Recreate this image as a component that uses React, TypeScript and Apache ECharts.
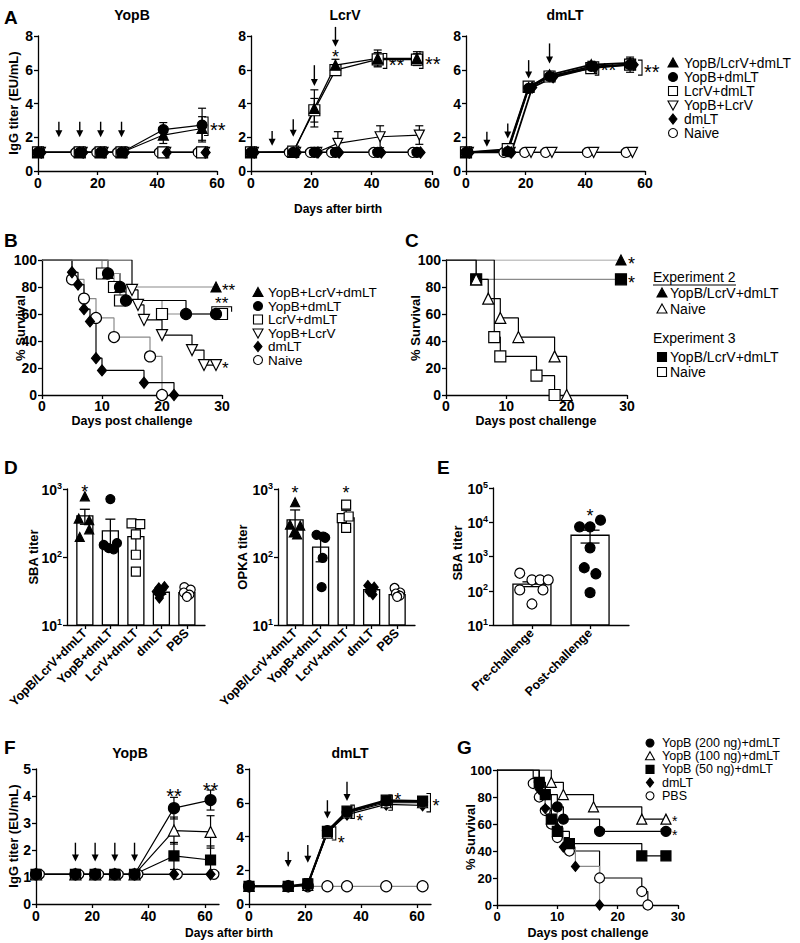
import React, { useEffect, useRef } from 'react';
import * as echarts from 'echarts';

const FONT = '"Liberation Sans", Arial, Helvetica, sans-serif';
const GRAY = '#8a8a8a';

// ================= Panel A (IgG titers, EU/mL) =================
const daysA = [0, 14, 21, 28, 42, 55];
const aBase = [1.1, 1.1, 1.1, 1.1, 1.1, 1.1];
const aNoErr = [0, 0, 0, 0, 0, 0];
// anti-YopB
const aYopB_YLD = [1.1, 1.1, 1.1, 1.1, 2.13, 2.52];
const aYopB_YLD_err = [0, 0, 0, 0, 0.5, 0.7];
const aYopB_YD = [1.1, 1.1, 1.1, 1.1, 2.45, 2.72];
const aYopB_YD_err = [0, 0, 0, 0, 0.42, 1.0];
// anti-LcrV
const aLcrV_YLD = [1.1, 1.1, 3.71, 6.27, 6.67, 6.67];
const aLcrV_YLD_err = [0, 0, 1.1, 0.35, 0.5, 0.4];
const aLcrV_LD = [1.1, 1.15, 3.6, 5.98, 6.62, 6.6];
const aLcrV_LD_err = [0, 0.1, 0.7, 0.3, 0.4, 0.35];
const aLcrV_YL = [1.1, 1.1, 1.1, 1.64, 2.03, 2.13];
const aLcrV_YL_err = [0, 0, 0, 0.69, 0.65, 0.55];
// anti-dmLT
const aDmlt_YLD = [1.1, 1.2, 4.95, 5.7, 6.3, 6.4];
const aDmlt_YLD_err = [0, 0.1, 0.2, 0.2, 0.2, 0.25];
const aDmlt_YD = [1.1, 1.15, 4.9, 5.6, 6.2, 6.3];
const aDmlt_YD_err = [0, 0, 0.15, 0.15, 0.2, 0.45];
const aDmlt_LD = [1.1, 1.3, 5.0, 5.6, 6.1, 6.3];
const aDmlt_LD_err = [0, 0.2, 0.15, 0.15, 0.2, 0.2];
const aDmlt_D = [1.1, 1.1, 4.95, 5.55, 6.15, 6.3];
// immunisation arrows [day, top, tip]
const aArrowsYopB = [[7, 2.92, 2.0], [14, 2.92, 2.0], [21, 2.92, 2.0], [28, 2.92, 2.0]];
const aArrowsLcrV = [[7, 2.37, 1.5], [14, 3.06, 2.03], [21, 6.27, 5.03], [28, 8.54, 7.36]];
const aArrowsDmlt = [[7, 2.33, 1.44], [14, 2.82, 1.93], [21, 6.57, 5.48], [28, 7.56, 6.37]];
const aLegend = ['YopB/LcrV+dmLT', 'YopB+dmLT', 'LcrV+dmLT', 'YopB+LcrV', 'dmLT', 'Naive'];

// ================= Panel B (survival) =================
const bLegend = ['YopB+LcrV+dmLT', 'YopB+dmLT', 'LcrV+dmLT', 'YopB+LcrV', 'dmLT', 'Naive'];
const bT_YLD = [0, 11, 13, 29];
const bS_YLD = [100, 90, 80, 80];
const bT_YD = [0, 11, 13, 14, 24, 29];
const bS_YD = [100, 90, 80, 70, 60, 60];
const bT_LD = [0, 10, 12, 13, 20, 30];
const bS_LD = [100, 90, 80, 70, 60, 60];
const bT_YL = [0, 15, 16, 17, 20, 25, 27, 29];
const bS_YL = [100, 77.8, 66.7, 55.6, 44.4, 33.3, 22.2, 22.2];
const bT_D = [0, 5, 6, 7, 8, 9, 10, 17, 22];
const bS_D = [100, 90.9, 81.8, 63.6, 54.5, 27.3, 18.2, 9.1, 0];
const bT_N = [0, 5, 7, 9, 12, 18, 20];
const bS_N = [100, 85.7, 71.4, 57.1, 42.9, 28.6, 0];

// ================= Panel C (survival) =================
const cT_e2V = [0, 29];
const cS_e2V = [100, 100];
const cT_e2N = [0, 5, 7, 9, 12, 18, 20];
const cS_e2N = [100, 85.7, 71.4, 57.1, 42.9, 28.6, 0];
const cT_e3V = [0, 5, 29];
const cS_e3V = [100, 85.7, 85.7];
const cT_e3N = [0, 8, 9, 15, 18];
const cS_e3N = [100, 42.9, 28.6, 14.3, 0];

// ================= Panel D (SBA / OPKA) =================
const dCats = ['YopB/LcrV+dmLT', 'YopB+dmLT', 'LcrV+dmLT', 'dmLT', 'PBS'];
const sbaMean = [403, 242, 199, 30.3, 30];
const sbaSem = [100, 118, 80, 2, 1.5];
const sbaPts = [[780, 367, 347, 255, 197], [711, 150, 135, 130, 160], [313, 304, 215, 108, 61], [35, 36.5, 31, 29, 25], [36, 33, 30, 28, 26]];
const sbaJit = [[0, -0.24, 0.17, 0.17, -0.2], [0, -0.26, -0.06, 0.13, 0.26], [-0.17, 0.17, 0, 0, 0], [-0.1, 0.12, -0.2, 0, -0.08], [-0.1, 0.15, -0.12, 0.1, 0]];
const opkaMean = [352, 140, 377, 33, 28];
const opkaSem = [140, 55, 110, 2, 1.5];
const opkaPts = [[638, 300, 290, 230, 215], [212, 200, 192, 97, 36], [590, 373, 394, 268], [38, 36, 33, 31, 28], [35, 30, 29, 27, 26]];
const opkaJit = [[0, -0.2, 0.2, -0.05, 0.08], [-0.16, 0.1, 0.18, 0.08, 0.04], [0, -0.17, 0.1, 0], [-0.15, 0.1, 0, -0.1, 0.05], [-0.1, 0.12, -0.05, 0.1, 0]];
const dSyms = ['triUp', 'circle', 'squareOpen', 'diamond', 'circleOpen'];

// ================= Panel E =================
const eCats = ['Pre-challenge', 'Post-challenge'];
const eMean = [157, 4170];
const eSem = [25, 1700];
const ePre = [325, 207, 207, 207, 106, 106, 41];
const ePreJit = [-0.21, 0, 0.14, 0.28, -0.21, 0.19, 0];
const ePost = [7350, 7350, 11500, 1795, 469, 313, 88];
const ePostJit = [-0.18, 0, 0.18, 0, -0.1, 0.1, 0];

// ================= Panel F (IgG titers) =================
const daysF = [0, 14, 21, 28, 35, 49, 62];
const fBase = [1.1, 1.1, 1.1, 1.1, 1.1, 1.1, 1.1];
const fYopB_200 = [1.1, 1.1, 1.1, 1.1, 1.1, 3.55, 3.85];
const fYopB_200_err = [0, 0, 0, 0, 0, 0.4, 0.37];
const fYopB_100 = [1.1, 1.1, 1.1, 1.1, 1.1, 2.72, 2.67];
const fYopB_100_err = [0, 0, 0, 0, 0, 0.5, 0.6];
const fYopB_50 = [1.1, 1.1, 1.1, 1.1, 1.1, 1.78, 1.63];
const fYopB_50_err = [0, 0, 0, 0, 0, 0.5, 0.52];
const fDmlt_200 = [1.05, 1.05, 1.15, 4.35, 5.45, 6.1, 6.05];
const fDmlt_100 = [1.05, 1.05, 1.1, 4.2, 5.4, 6.0, 6.0];
const fDmlt_50 = [1.05, 1.05, 1.2, 4.3, 5.5, 6.15, 6.1];
const fDmlt_50_err = [0, 0, 0.3, 0.2, 0.15, 0.1, 0.1];
const fDmlt_D = [1.05, 1.05, 1.15, 4.25, 5.3, 5.9, 5.85];
const fDmlt_PBS = [1.05, 1.05, 1.05, 1.05, 1.05, 1.05, 1.05];
const fArrowsYopB = [[14, 2.27, 1.57], [21, 2.27, 1.57], [28, 2.27, 1.57], [35, 2.27, 1.57]];
const fArrowsDmlt = [[14, 3.1, 2.2], [21, 3.5, 2.45], [28, 6.15, 5.07], [35, 7.25, 6.1]];
const gLegend = ['YopB (200 ng)+dmLT', 'YopB (100 ng)+dmLT', 'YopB (50 ng)+dmLT', 'dmLT', 'PBS'];

// ================= Panel G (survival) =================
const gT_200 = [0, 7, 8, 10, 11, 17, 28];
const gS_200 = [100, 90.9, 81.8, 72.7, 63.6, 54.5, 54.5];
const gT_100 = [0, 9, 11, 16, 24, 28];
const gS_100 = [100, 90.9, 81.8, 72.7, 63.6, 63.6];
const gT_50 = [0, 7, 8, 9, 10, 12, 24, 28];
const gS_50 = [100, 90.9, 81.8, 63.6, 54.5, 45.5, 36.4, 36.4];
const gT_D = [0, 7, 8, 10, 11, 13, 17];
const gS_D = [100, 85.7, 71.4, 57.1, 42.9, 28.6, 0];
const gT_P = [0, 6, 7, 8, 9, 10, 12, 17, 24, 25];
const gS_P = [100, 90, 80, 70, 60, 50, 40, 20, 10, 0];

// ---------------- helpers ----------------
type SymDef = { symbol: string; rotate?: number; fill: string };
const SYM: Record<string, SymDef> = {
  triUp: { symbol: 'triangle', fill: '#000' },
  triUpOpen: { symbol: 'triangle', fill: '#fff' },
  triDownOpen: { symbol: 'triangle', rotate: 180, fill: '#fff' },
  circle: { symbol: 'circle', fill: '#000' },
  circleOpen: { symbol: 'circle', fill: '#fff' },
  square: { symbol: 'rect', fill: '#000' },
  squareOpen: { symbol: 'rect', fill: '#fff' },
  diamond: { symbol: 'diamond', fill: '#000' },
};

function axisBase(grid: number, o: any) {
  const ticks = o.ticks ? { customValues: o.ticks } : {};
  return {
    type: o.log ? 'log' : 'value',
    gridIndex: grid,
    min: o.min,
    max: o.max,
    ...(o.interval ? { interval: o.interval } : {}),
    ...(o.log ? { logBase: 10 } : {}),
    axisLine: { show: true, onZero: false, lineStyle: { color: '#000', width: 1.3 } },
    axisTick: { show: true, length: 4, lineStyle: { color: '#000', width: 1.3 }, ...ticks },
    axisLabel: {
      color: '#000', fontFamily: FONT, fontWeight: 'bold', fontSize: o.fs || 14, margin: o.margin ?? 5,
      ...ticks, ...(o.label || {}),
    },
    splitLine: { show: false },
    minorTick: { show: false },
  };
}

function lineS(grid: number, xs: number[], ys: number[], sym: string, o: any = {}) {
  const s = SYM[sym];
  const nudge = o.nudge || 0;
  return {
    type: 'line', xAxisIndex: grid, yAxisIndex: grid,
    data: xs.map((x, i) => {
      const v = [x + nudge, ys[i]];
      return o.km && i === 0 ? { value: v, symbol: 'none' } : v;
    }),
    step: o.km ? 'end' : false,
    symbol: s.symbol, symbolRotate: s.rotate || 0, symbolSize: o.size || 10,
    showAllSymbol: true,
    lineStyle: { color: o.color || '#000', width: o.width || 1.2 },
    itemStyle: { color: s.fill, borderColor: '#000', borderWidth: 1.2 },
    z: o.z || 3, silent: true, animation: false, emphasis: { disabled: true },
  };
}

function customS(grid: number, data: any[], renderItem: any, z = 4) {
  return {
    type: 'custom', xAxisIndex: grid, yAxisIndex: grid, data, renderItem, z,
    encode: { x: 0, y: 1 }, silent: true, animation: false, clip: false,
  };
}

function errS(grid: number, xs: number[], ys: number[], errs: number[], nudge = 0, cap = 8) {
  return customS(grid, xs.map((x, i) => [x + nudge, ys[i], errs[i]]), (p: any, api: any) => {
    const e = api.value(2);
    if (!e) return null;
    const x = api.value(0), v = api.value(1);
    const t = api.coord([x, v + e]), b = api.coord([x, v - e]);
    const st = { stroke: '#000', lineWidth: 1.2 };
    return {
      type: 'group', children: [
        { type: 'line', shape: { x1: t[0], y1: t[1], x2: b[0], y2: b[1] }, style: st },
        { type: 'line', shape: { x1: t[0] - cap / 2, y1: t[1], x2: t[0] + cap / 2, y2: t[1] }, style: st },
        { type: 'line', shape: { x1: b[0] - cap / 2, y1: b[1], x2: b[0] + cap / 2, y2: b[1] }, style: st },
      ],
    };
  }, 2);
}

function arrowS(grid: number, arrows: number[][]) {
  return customS(grid, arrows, (p: any, api: any) => {
    const x = api.value(0);
    const t = api.coord([x, api.value(1)]), b = api.coord([x, api.value(2)]);
    const h = 7, w = 3.5;
    return {
      type: 'group', children: [
        { type: 'line', shape: { x1: t[0], y1: t[1], x2: b[0], y2: b[1] - h + 1 }, style: { stroke: '#000', lineWidth: 1.4 } },
        { type: 'polygon', shape: { points: [[b[0] - w, b[1] - h], [b[0] + w, b[1] - h], [b[0], b[1]]] }, style: { fill: '#000' } },
      ],
    };
  }, 5);
}

function bracketS(grid: number, items: number[][], labels: string[], dys: number[], fs = 18) {
  return customS(grid, items, (p: any, api: any) => {
    const x = api.value(0);
    const lo = api.coord([x, api.value(1)]), hi = api.coord([x, api.value(2)]);
    const i = p.dataIndex, arm = 4;
    return {
      type: 'group', children: [
        { type: 'polyline', shape: { points: [[hi[0] - arm, hi[1]], [hi[0], hi[1]], [lo[0], lo[1]], [lo[0] - arm, lo[1]]] }, style: { stroke: '#000', lineWidth: 1.1, fill: null } },
        { type: 'text', x: hi[0] + 2, y: (hi[1] + lo[1]) / 2 + fs * 0.2 + (dys[i] || 0), style: { text: labels[i], fontSize: fs, fontFamily: FONT, fill: '#000', align: 'left', verticalAlign: 'middle' } },
      ],
    };
  }, 6);
}

function textS(grid: number, pts: number[][], labels: string[], o: any = {}) {
  const fs = o.fs || 18;
  return customS(grid, pts, (p: any, api: any) => {
    const c = api.coord([api.value(0), api.value(1)]);
    return {
      type: 'text', x: c[0] + (o.dx || 0), y: c[1] + fs * 0.2 + (o.dy || 0),
      style: { text: labels[p.dataIndex], fontSize: fs, fontFamily: FONT, fill: '#000', align: o.align || 'center', verticalAlign: 'middle' },
    };
  }, 6);
}

function barS(grid: number, means: number[], sems: number[], width: number, yMin: number, cap: number) {
  return customS(grid, means.map((m, i) => [i, m, sems[i]]), (p: any, api: any) => {
    const i = api.value(0), m = api.value(1), s = api.value(2);
    const top = api.coord([i, m]), base = api.coord([i, yMin]);
    const et = api.coord([i, m + s]), eb = api.coord([i, Math.max(m - s, yMin * 1.01)]);
    const st = { stroke: '#000', lineWidth: 1.3 };
    return {
      type: 'group', children: [
        { type: 'rect', shape: { x: top[0] - width / 2, y: top[1], width, height: base[1] - top[1] }, style: { fill: '#fff', stroke: '#000', lineWidth: 1.3 } },
        { type: 'line', shape: { x1: et[0], y1: et[1], x2: eb[0], y2: eb[1] }, style: st },
        { type: 'line', shape: { x1: et[0] - cap / 2, y1: et[1], x2: et[0] + cap / 2, y2: et[1] }, style: st },
        { type: 'line', shape: { x1: eb[0] - cap / 2, y1: eb[1], x2: eb[0] + cap / 2, y2: eb[1] }, style: st },
      ],
    };
  }, 1);
}

function dotsS(grid: number, center: number, vals: number[], jit: number[], sym: string, size: any = 9) {
  const s = SYM[sym];
  return {
    type: 'scatter', xAxisIndex: grid, yAxisIndex: grid,
    data: vals.map((v, i) => [center + jit[i], v]),
    symbol: s.symbol, symbolRotate: s.rotate || 0, symbolSize: size,
    itemStyle: { color: s.fill, borderColor: '#000', borderWidth: 1.2, opacity: 1 },
    z: 5, silent: true, animation: false, emphasis: { disabled: true },
  };
}

// graphic helpers
function gText(text: string, x: number, y: number, o: any = {}) {
  return {
    type: 'text', x, y, rotation: o.rot || 0, silent: true, z: 20,
    style: { text, fontFamily: FONT, fontSize: o.fs || 14, fontWeight: o.bold ? 'bold' : 'normal', fill: '#000', align: o.align || 'center', verticalAlign: 'middle' },
  };
}
function gSym(kind: string, cx: number, cy: number, s: number) {
  const fill = SYM[kind].fill;
  const style = { fill, stroke: '#000', lineWidth: 1.1 };
  const h = s / 2;
  if (kind === 'circle' || kind === 'circleOpen') return { type: 'circle', shape: { cx, cy, r: h - 0.5 }, style, z: 20, silent: true };
  if (kind === 'square' || kind === 'squareOpen') return { type: 'rect', shape: { x: cx - h + 0.5, y: cy - h + 0.5, width: s - 1, height: s - 1 }, style, z: 20, silent: true };
  if (kind === 'triUp' || kind === 'triUpOpen') return { type: 'polygon', shape: { points: [[cx, cy - h], [cx + h, cy + h - 1], [cx - h, cy + h - 1]] }, style, z: 20, silent: true };
  if (kind === 'triDownOpen') return { type: 'polygon', shape: { points: [[cx - h, cy - h + 1], [cx + h, cy - h + 1], [cx, cy + h]] }, style, z: 20, silent: true };
  return { type: 'polygon', shape: { points: [[cx, cy - h], [cx + h * 0.8, cy], [cx, cy + h], [cx - h * 0.8, cy]] }, style, z: 20, silent: true };
}
function gLegendBlock(mx: number, tx: number, y0: number, gap: number, labels: string[], syms: string[], size = 10, fs = 14) {
  const out: any[] = [];
  labels.forEach((l, i) => {
    out.push(gSym(syms[i], mx, y0 + i * gap, size));
    out.push(gText(l, tx, y0 + i * gap, { align: 'left', fs }));
  });
  return out;
}

function buildOption() {
  const grids = [
    { left: 38, top: 36, width: 179, height: 135 },   // 0 A1
    { left: 251, top: 36, width: 181, height: 135 },  // 1 A2
    { left: 466, top: 36, width: 179, height: 135 },  // 2 A3
    { left: 42, top: 260, width: 180, height: 135 },  // 3 B
    { left: 446, top: 260, width: 181, height: 135 }, // 4 C
    { left: 67, top: 489, width: 138, height: 136 },  // 5 D1
    { left: 278, top: 489, width: 137, height: 136 }, // 6 D2
    { left: 493, top: 488, width: 136, height: 137 }, // 7 E
    { left: 36, top: 769, width: 183, height: 135 },  // 8 F1
    { left: 249, top: 769, width: 182, height: 135 }, // 9 F2
    { left: 497, top: 770, width: 181, height: 135 }, // 10 G
  ];
  const logFmt = (v: number) => `{b|10}{s|${Math.round(Math.log10(v))}}`;
  const logRich = {
    b: { fontSize: 14, fontWeight: 'bold', fontFamily: FONT, color: '#000', lineHeight: 16, verticalAlign: 'bottom' },
    s: { fontSize: 9, fontWeight: 'bold', fontFamily: FONT, color: '#000', lineHeight: 16, verticalAlign: 'top', padding: [0, 0, 6, 0] },
  };
  const catLabel = (cats: string[]) => ({ rotate: 45, fontSize: 12.5, formatter: (v: number) => (Math.abs(v - Math.round(v)) < 1e-6 && cats[Math.round(v)]) || '' });

  const xAxis = [
    axisBase(0, { min: 0, max: 60, interval: 20 }),
    axisBase(1, { min: 0, max: 60, interval: 20 }),
    axisBase(2, { min: 0, max: 60, interval: 20 }),
    axisBase(3, { min: 0, max: 30, interval: 10, margin: 4 }),
    axisBase(4, { min: 0, max: 30, interval: 10, margin: 4 }),
    axisBase(5, { min: -0.7, max: 4.71, ticks: [0, 1, 2, 3, 4], label: catLabel(dCats), margin: 6 }),
    axisBase(6, { min: -0.67, max: 4.7, ticks: [0, 1, 2, 3, 4], label: catLabel(dCats), margin: 6 }),
    axisBase(7, { min: -0.67, max: 1.67, ticks: [0, 1], label: catLabel(eCats), margin: 6 }),
    axisBase(8, { min: 0, max: 65, ticks: [0, 20, 40, 60] }),
    axisBase(9, { min: 0, max: 65, ticks: [0, 20, 40, 60] }),
    axisBase(10, { min: 0, max: 30, interval: 10, fs: 13 }),
  ];
  const yAxis = [
    axisBase(0, { min: 0, max: 8, interval: 2 }),
    axisBase(1, { min: 0, max: 8, interval: 2 }),
    axisBase(2, { min: 0, max: 8, interval: 2 }),
    axisBase(3, { min: 0, max: 100, interval: 20 }),
    axisBase(4, { min: 0, max: 100, interval: 20 }),
    axisBase(5, { log: true, min: 10, max: 1000, label: { formatter: logFmt, rich: logRich } }),
    axisBase(6, { log: true, min: 10, max: 1000, label: { formatter: logFmt, rich: logRich } }),
    axisBase(7, { log: true, min: 10, max: 100000, label: { formatter: logFmt, rich: logRich } }),
    axisBase(8, { min: 0, max: 5, interval: 1 }),
    axisBase(9, { min: 0, max: 8, interval: 2 }),
    axisBase(10, { min: 0, max: 100, interval: 20, fs: 13 }),
  ];

  const series: any[] = [];

  // ---- Panel A ----
  const aPanels = [
    { g: 0, YLD: [aYopB_YLD, aYopB_YLD_err], YD: [aYopB_YD, aYopB_YD_err], LD: [aBase, aNoErr], YL: [aBase, aNoErr], D: [aBase, aNoErr], N: aBase, w: 1.2, arrows: aArrowsYopB },
    { g: 1, YLD: [aLcrV_YLD, aLcrV_YLD_err], YD: [aBase, aNoErr], LD: [aLcrV_LD, aLcrV_LD_err], YL: [aLcrV_YL, aLcrV_YL_err], D: [aBase, aNoErr], N: aBase, w: 1.3, arrows: aArrowsLcrV },
    { g: 2, YLD: [aDmlt_YLD, aDmlt_YLD_err], YD: [aDmlt_YD, aDmlt_YD_err], LD: [aDmlt_LD, aDmlt_LD_err], YL: [aBase, aNoErr], D: [aDmlt_D, aNoErr], N: aBase, w: 1.8, arrows: aArrowsDmlt },
  ];
  aPanels.forEach((P) => {
    const g = P.g;
    series.push(lineS(g, daysA, P.N, 'circleOpen', { nudge: -1.3 }));
    series.push(errS(g, daysA, P.YL[0], P.YL[1], 0.8));
    series.push(lineS(g, daysA, P.YL[0], 'triDownOpen', { nudge: 0.8 }));
    series.push(errS(g, daysA, P.LD[0], P.LD[1]));
    series.push(lineS(g, daysA, P.LD[0], 'squareOpen', { width: P.w, size: 11 }));
    series.push(errS(g, daysA, P.D[0], P.D[1], 1.2));
    series.push(lineS(g, daysA, P.D[0], 'diamond', { nudge: 1.2, width: P.w, size: [9, 11] }));
    series.push(errS(g, daysA, P.YD[0], P.YD[1]));
    series.push(lineS(g, daysA, P.YD[0], 'circle', { width: P.w }));
    series.push(errS(g, daysA, P.YLD[0], P.YLD[1]));
    series.push(lineS(g, daysA, P.YLD[0], 'triUp', { width: P.w }));
    series.push(arrowS(g, P.arrows));
  });
  series.push(bracketS(0, [[57, 2.1, 3.2]], ['**'], [0], 20));
  series.push(textS(1, [[28, 6.96]], ['*'], { fs: 18 }));
  series.push(bracketS(1, [[45, 6.08, 6.96], [57, 6.08, 7.06]], ['**', '**'], [0, 0], 20));
  series.push(bracketS(2, [[44.5, 5.68, 6.47], [59, 5.68, 6.57]], ['**', '**'], [-2, 0], 20));

  // ---- Panel B ----
  series.push(lineS(3, bT_N, bS_N, 'circleOpen', { km: true, color: GRAY, size: 11 }));
  series.push(lineS(3, bT_D, bS_D, 'diamond', { km: true, size: [9, 11] }));
  series.push(lineS(3, bT_YL, bS_YL, 'triDownOpen', { km: true, size: 11 }));
  series.push(lineS(3, bT_LD, bS_LD, 'squareOpen', { km: true, color: GRAY, size: 11 }));
  series.push(lineS(3, bT_YD, bS_YD, 'circle', { km: true, size: 11 }));
  series.push(lineS(3, bT_YLD, bS_YLD, 'triUp', { km: true, color: GRAY, size: 10 }));
  series.push(textS(3, [[29, 80], [29, 22.2]], ['**', '*'], { align: 'left', dx: 6, fs: 17 }));
  series.push(customS(3, [[28.3, 31.6, 65.4]], (p: any, api: any) => {
    const a = api.coord([api.value(0), api.value(2)]), b = api.coord([api.value(1), api.value(2)]);
    return {
      type: 'group', children: [
        { type: 'polyline', shape: { points: [[a[0], a[1] + 5], [a[0], a[1]], [b[0], b[1]], [b[0], b[1] + 5]] }, style: { stroke: '#000', lineWidth: 1.1, fill: null } },
        { type: 'text', x: (a[0] + b[0]) / 2, y: a[1] - 3, style: { text: '**', fontSize: 17, fontFamily: FONT, fill: '#000', align: 'center', verticalAlign: 'middle' } },
      ],
    };
  }, 6));

  // ---- Panel C ----
  series.push(lineS(4, cT_e2V, cS_e2V, 'triUp', { km: true, color: GRAY }));
  series.push(lineS(4, cT_e3V, cS_e3V, 'square', { km: true, color: GRAY, size: 11 }));
  series.push(lineS(4, cT_e3N, cS_e3N, 'squareOpen', { km: true, size: 11 }));
  series.push(lineS(4, cT_e2N, cS_e2N, 'triUpOpen', { km: true, size: 11 }));
  series.push(textS(4, [[29, 100], [29, 85.7]], ['*', '*'], { align: 'left', dx: 7 }));

  // ---- Panel D ----
  series.push(barS(5, sbaMean, sbaSem, 16, 10, 10));
  sbaPts.forEach((pts, i) => series.push(dotsS(5, i, pts, sbaJit[i], dSyms[i], i === 3 ? [8, 10] : 9)));
  series.push(textS(5, [[0, 1035]], ['*'], { fs: 18 }));
  series.push(barS(6, opkaMean, opkaSem, 16, 10, 10));
  opkaPts.forEach((pts, i) => series.push(dotsS(6, i, pts, opkaJit[i], dSyms[i], i === 3 ? [8, 10] : 9)));
  series.push(textS(6, [[0, 1000], [2, 1000]], ['*', '*'], { fs: 18 }));

  // ---- Panel E ----
  series.push(barS(7, eMean, eSem, 38, 10, 19));
  series.push(dotsS(7, 0, ePre, ePreJit, 'circleOpen', 10));
  series.push(dotsS(7, 1, ePost, ePostJit, 'circle', 10));
  series.push(textS(7, [[1, 19500]], ['*'], { fs: 18 }));

  // ---- Panel F ----
  series.push(lineS(8, daysF, fBase, 'circleOpen', { nudge: 1.2 }));
  series.push(lineS(8, daysF, fBase, 'diamond', { size: [9, 11] }));
  series.push(errS(8, daysF, fYopB_50, fYopB_50_err));
  series.push(lineS(8, daysF, fYopB_50, 'square'));
  series.push(errS(8, daysF, fYopB_100, fYopB_100_err));
  series.push(lineS(8, daysF, fYopB_100, 'triUpOpen', { size: 11 }));
  series.push(errS(8, daysF, fYopB_200, fYopB_200_err));
  series.push(lineS(8, daysF, fYopB_200, 'circle', { size: 11 }));
  series.push(arrowS(8, fArrowsYopB));
  series.push(textS(8, [[49, 4.16], [62, 4.37]], ['**', '**'], { fs: 20 }));

  series.push(lineS(9, daysF, fDmlt_PBS, 'circleOpen', { color: GRAY, size: 11 }));
  series.push(lineS(9, daysF, fDmlt_D, 'diamond', { size: [9, 11], width: 1.2 }));
  series.push(lineS(9, daysF, fDmlt_100, 'triUpOpen', { width: 1.2 }));
  series.push(lineS(9, daysF, fDmlt_200, 'circle', { width: 1.8 }));
  series.push(errS(9, daysF, fDmlt_50, fDmlt_50_err));
  series.push(lineS(9, daysF, fDmlt_50, 'square', { width: 2 }));
  series.push(arrowS(9, fArrowsDmlt));
  series.push(bracketS(9, [[31, 3.79, 4.57], [37.6, 5.07, 5.86], [51.2, 5.56, 6.45], [64.8, 5.46, 6.55]], ['*', '*', '*', '*'], [6, 6, -6, 0], 18));

  // ---- Panel G ----
  series.push(lineS(10, gT_P, gS_P, 'circleOpen', { km: true, size: 10 }));
  series.push(lineS(10, gT_D, gS_D, 'diamond', { km: true, color: GRAY, size: [8, 10] }));
  series.push(lineS(10, gT_50, gS_50, 'square', { km: true, size: 10 }));
  series.push(lineS(10, gT_100, gS_100, 'triUpOpen', { km: true, size: 10 }));
  series.push(lineS(10, gT_200, gS_200, 'circle', { km: true, size: 10 }));
  series.push(textS(10, [[28, 63.6]], ['*'], { align: 'left', dx: 6, dy: -1, fs: 14 }));
  series.push(textS(10, [[28, 54.5]], ['*'], { align: 'left', dx: 6, dy: 1, fs: 14 }));

  // ---- graphics: letters, titles, axis names, legends ----
  const graphic: any[] = [
    gText('A', 4, 17, { bold: true, fs: 19, align: 'left' }),
    gText('B', 4, 240, { bold: true, fs: 19, align: 'left' }),
    gText('C', 405, 240, { bold: true, fs: 19, align: 'left' }),
    gText('D', 4, 467, { bold: true, fs: 19, align: 'left' }),
    gText('E', 437, 467, { bold: true, fs: 19, align: 'left' }),
    gText('F', 4, 747, { bold: true, fs: 19, align: 'left' }),
    gText('G', 457, 747, { bold: true, fs: 19, align: 'left' }),
    gText('YopB', 132, 15, { bold: true }),
    gText('LcrV', 345, 15, { bold: true }),
    gText('dmLT', 565, 15, { bold: true }),
    gText('YopB', 130, 753, { bold: true }),
    gText('dmLT', 350, 753, { bold: true }),
    gText('IgG titer (EU/mL)', 13, 103, { bold: true, fs: 13, rot: Math.PI / 2 }),
    gText('Days after birth', 338, 209, { bold: true, fs: 12 }),
    gText('% Survival', 20, 328, { bold: true, fs: 13, rot: Math.PI / 2 }),
    gText('% Survival', 415, 328, { bold: true, fs: 13, rot: Math.PI / 2 }),
    gText('Days post challenge', 132, 421, { bold: true, fs: 12.5 }),
    gText('Days post challenge', 536, 421, { bold: true, fs: 12.5 }),
    gText('SBA titer', 33, 557, { bold: true, fs: 13, rot: Math.PI / 2 }),
    gText('OPKA titer', 242, 557, { bold: true, fs: 13, rot: Math.PI / 2 }),
    gText('SBA titer', 457, 553, { bold: true, fs: 13, rot: Math.PI / 2 }),
    gText('IgG titer (EU/mL)', 13, 836, { bold: true, fs: 13, rot: Math.PI / 2 }),
    gText('Days after birth', 229, 933, { bold: true, fs: 12 }),
    gText('% Survival', 470, 837, { bold: true, fs: 13, rot: Math.PI / 2 }),
    gText('Days post challenge', 588, 933, { bold: true, fs: 12.5 }),
    ...gLegendBlock(673, 684, 63, 14, aLegend, ['triUp', 'circle', 'squareOpen', 'triDownOpen', 'diamond', 'circleOpen'], 10, 13.8),
    ...gLegendBlock(258, 268, 292.5, 13.5, bLegend, ['triUp', 'circle', 'squareOpen', 'triDownOpen', 'diamond', 'circleOpen'], 10, 13.5),
    gText('Experiment 2', 653, 277, { align: 'left' }),
    { type: 'line', shape: { x1: 653, y1: 285, x2: 736, y2: 285 }, style: { stroke: '#000', lineWidth: 1 }, silent: true, z: 20 },
    ...gLegendBlock(662, 670, 293, 16, ['YopB/LcrV+dmLT', 'Naive'], ['triUp', 'triUpOpen']),
    gText('Experiment 3', 653, 338, { align: 'left' }),
    ...gLegendBlock(662, 670, 357, 15, ['YopB/LcrV+dmLT', 'Naive'], ['square', 'squareOpen']),
    ...gLegendBlock(650, 662, 743, 13.2, gLegend, ['circle', 'triUpOpen', 'square', 'diamond', 'circleOpen'], 9, 12.5),
  ];

  return {
    animation: false,
    backgroundColor: '#fff',
    textStyle: { fontFamily: FONT },
    grid: grids.map((g) => ({ ...g, containLabel: false })),
    xAxis,
    yAxis,
    series,
    graphic,
  };
}

export default function App() {
  const ref = useRef<HTMLDivElement>(null);
  useEffect(() => {
    if (!ref.current) return;
    const chart = echarts.init(ref.current, null, { renderer: 'svg' });
    chart.setOption(buildOption() as any);
    return () => chart.dispose();
  }, []);
  return <div ref={ref} style={{ position: 'absolute', left: 0, top: 0, width: 800, height: 943, background: '#fff' }} />;
}
